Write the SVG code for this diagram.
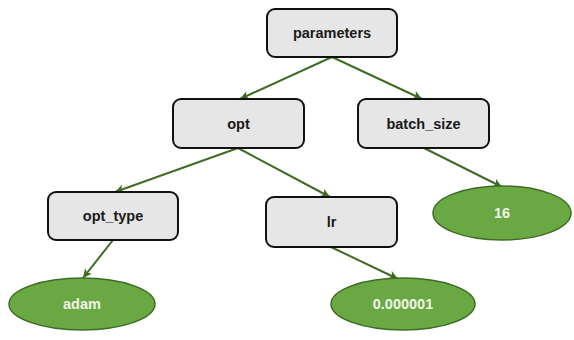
<svg xmlns="http://www.w3.org/2000/svg" width="574" height="340" viewBox="0 0 574 340">
<defs>
<marker id="arr" viewBox="0 0 10 10" refX="10" refY="5" markerWidth="10" markerHeight="9" markerUnits="userSpaceOnUse" orient="auto">
<path d="M0,0 L10,5 L0,10 L2.5,5 Z" fill="#3f6b25"/>
</marker>
<style>
.box{fill:#e6e6e6;stroke:#111;stroke-width:2}
.leaf{fill:#6aa844;stroke:#3f6b25;stroke-width:1.5}
.edge{stroke:#3f6b25;stroke-width:2;fill:none;marker-end:url(#arr)}
.t{font-family:"Liberation Sans",Arial,sans-serif;font-weight:bold;font-size:14.5px;text-anchor:middle;dominant-baseline:central}
.tb{fill:#1a1a1a}
.tl{fill:#eef5e6}
</style>
</defs>
<rect width="574" height="340" fill="#ffffff"/>
<g id="edges">
<line class="edge" x1="332" y1="57" x2="240" y2="99"/>
<line class="edge" x1="332" y1="57" x2="422" y2="99"/>
<line class="edge" x1="238" y1="148" x2="115" y2="192"/>
<line class="edge" x1="238" y1="148" x2="330" y2="197"/>
<line class="edge" x1="113" y1="240" x2="83" y2="278"/>
<line class="edge" x1="331" y1="247" x2="398" y2="279"/>
<line class="edge" x1="424" y1="148" x2="502" y2="187"/>
</g>
<g id="parameters"><rect class="box" x="267" y="9" width="130" height="48" rx="8"/><text class="t tb" x="332" y="33">parameters</text></g>
<g id="opt"><rect class="box" x="173" y="99" width="131" height="49" rx="8"/><text class="t tb" x="238.5" y="123.5">opt</text></g>
<g id="batch_size"><rect class="box" x="358" y="99" width="131" height="49" rx="8"/><text class="t tb" x="423.5" y="123.5">batch_size</text></g>
<g id="opt_type"><rect class="box" x="48" y="192" width="130" height="48" rx="8"/><text class="t tb" x="113" y="216">opt_type</text></g>
<g id="lr"><rect class="box" x="266" y="197" width="131" height="50" rx="8"/><text class="t tb" x="331.5" y="222">lr</text></g>
<g id="v16"><ellipse class="leaf" cx="502" cy="213" rx="69" ry="27"/><text class="t tl" x="502" y="213">16</text></g>
<g id="adam"><ellipse class="leaf" cx="82" cy="304" rx="73" ry="26"/><text class="t tl" x="82" y="304">adam</text></g>
<g id="v0000001"><ellipse class="leaf" cx="403" cy="304" rx="72" ry="26"/><text class="t tl" x="403" y="304">0.000001</text></g>
</svg>
